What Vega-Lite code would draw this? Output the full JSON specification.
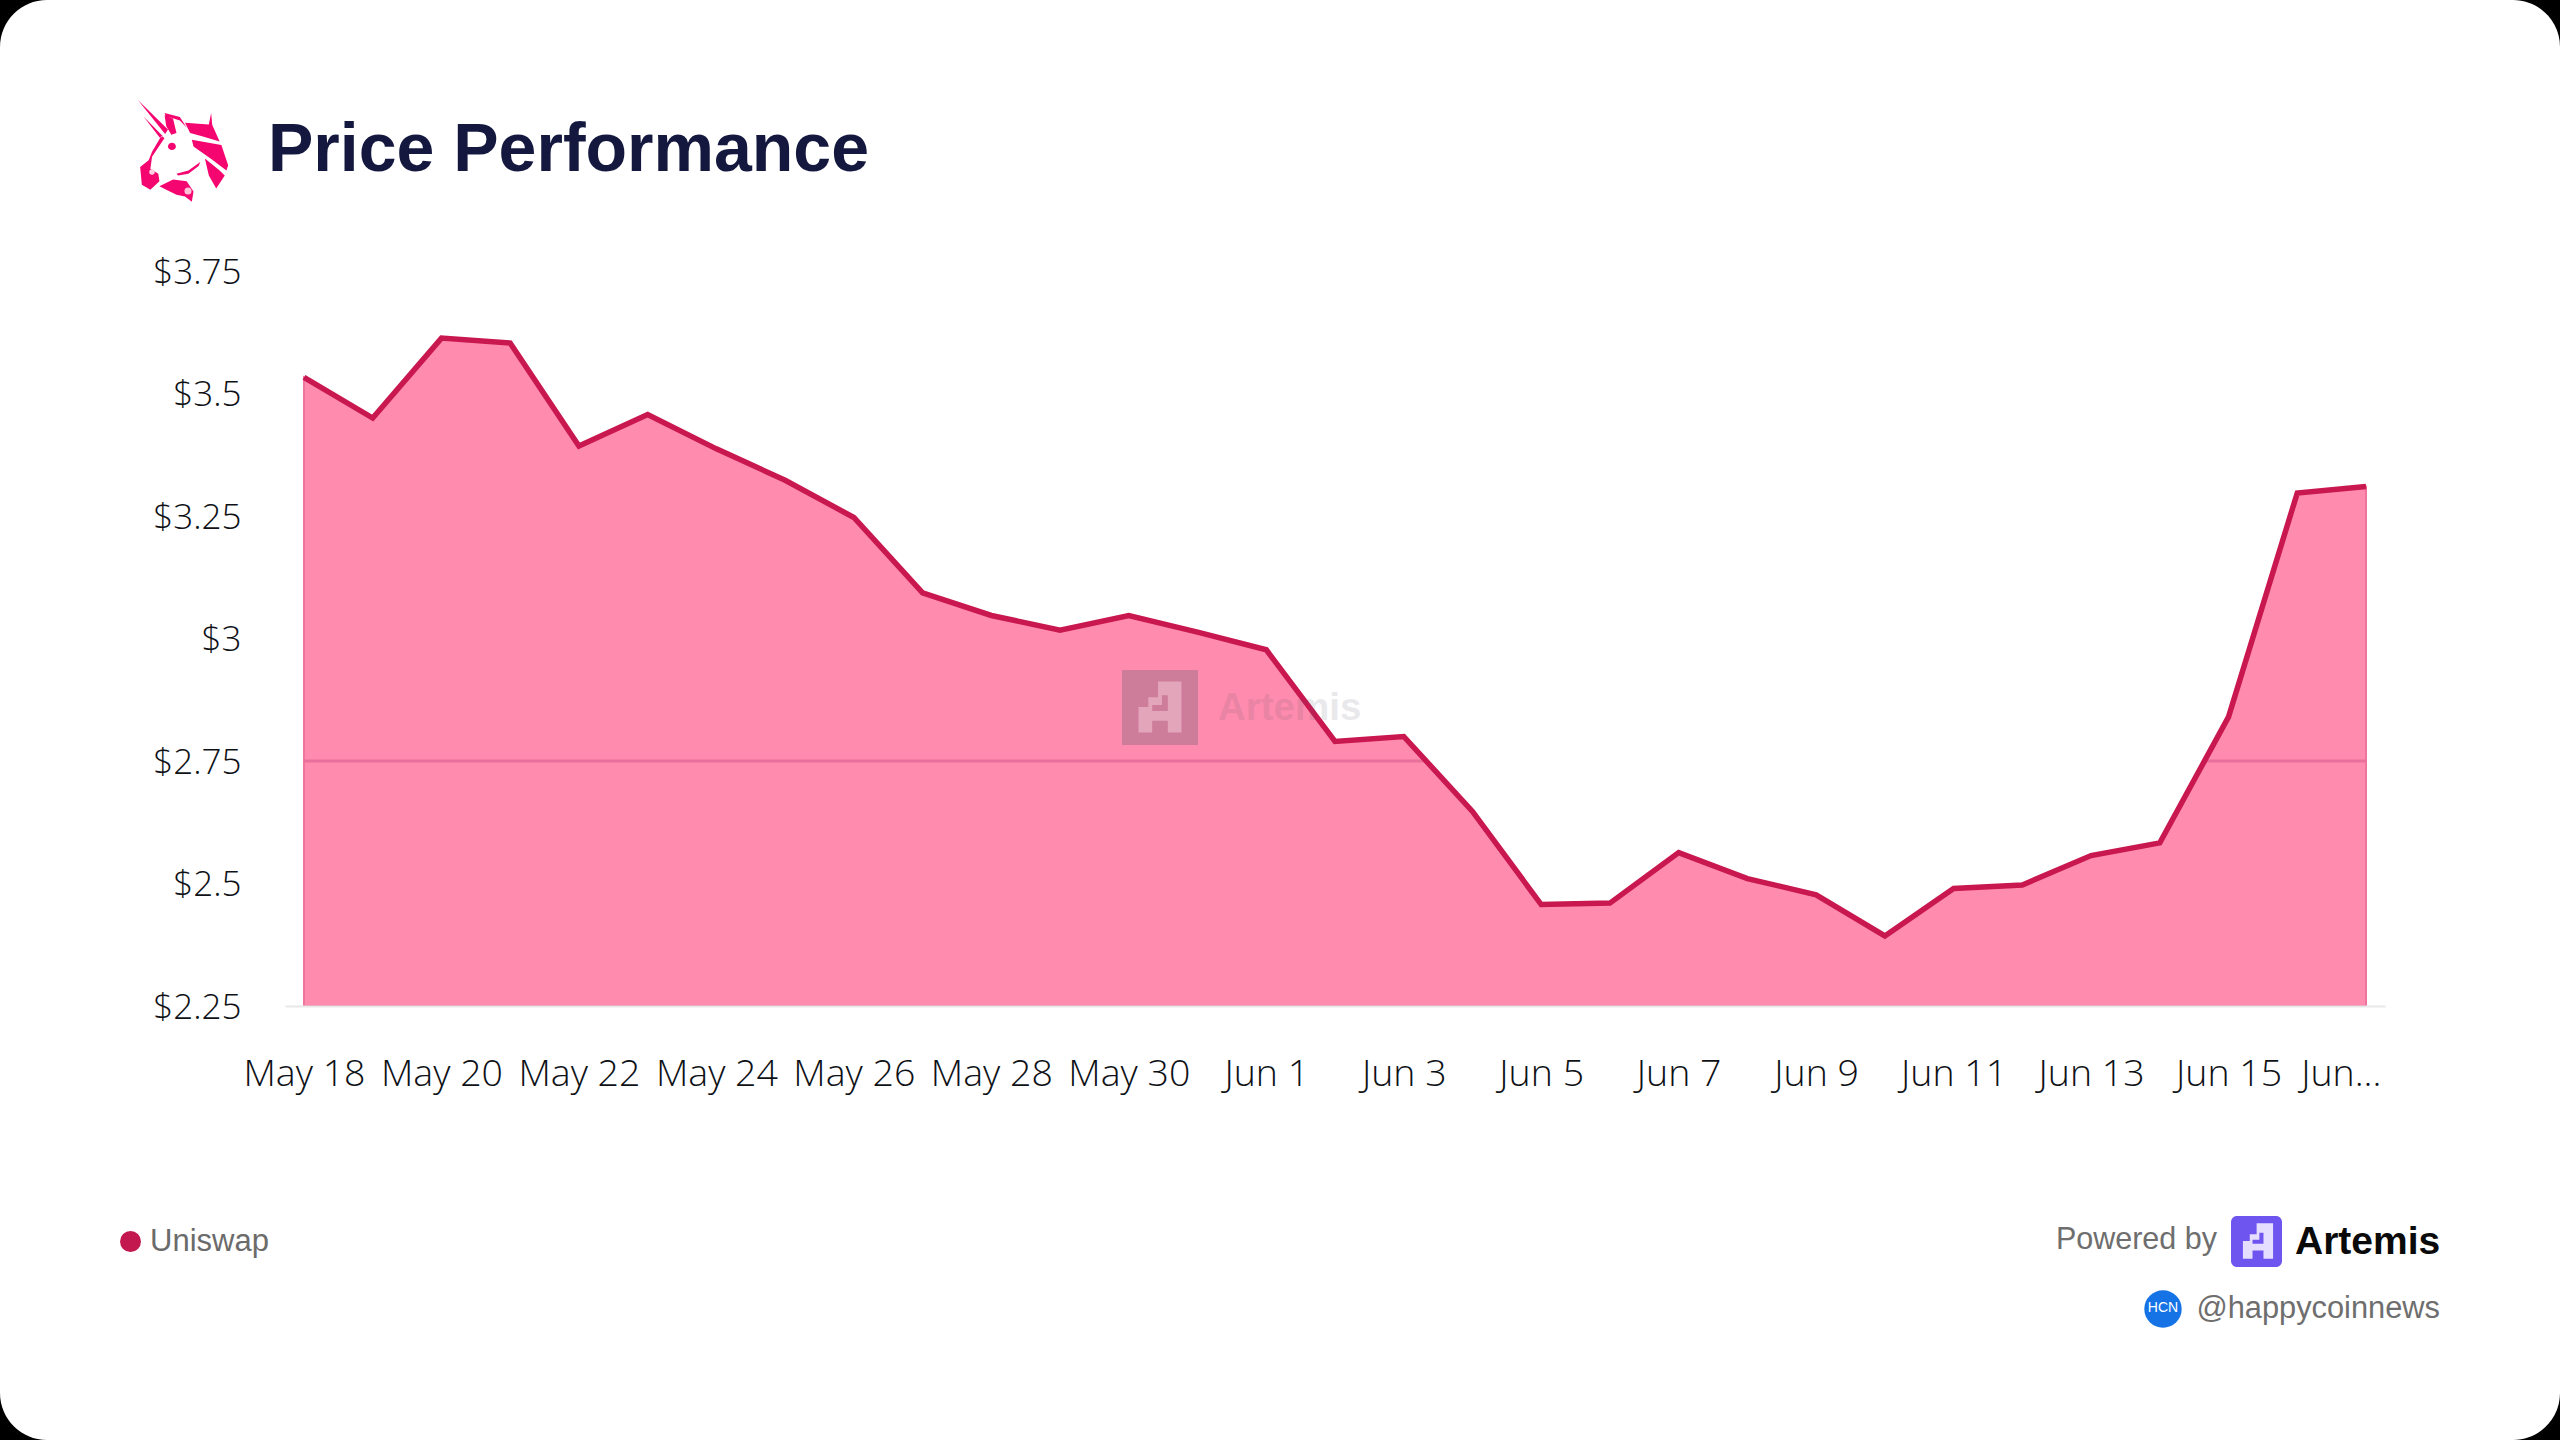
{"$schema":"https://vega.github.io/schema/vega-lite/v6.json","width":2100,"height":735,"autosize":"none","padding":{"left":285,"top":271,"right":175,"bottom":434},"background":"#000000","config":{"view":{"stroke":null},"font":"Open Sans"},"title":{"text":"Price Performance","anchor":"start","frame":"group","orient":"top","font":"Liberation Sans","fontWeight":"bold","fontSize":68,"color":"#14183F","dx":-17,"offset":-185},"data":{"values":[{"date":"2024-05-18T00:00:00Z","price":3.533,"token":"Uniswap"},{"date":"2024-05-19T00:00:00Z","price":3.45,"token":"Uniswap"},{"date":"2024-05-20T00:00:00Z","price":3.613,"token":"Uniswap"},{"date":"2024-05-21T00:00:00Z","price":3.603,"token":"Uniswap"},{"date":"2024-05-22T00:00:00Z","price":3.393,"token":"Uniswap"},{"date":"2024-05-23T00:00:00Z","price":3.457,"token":"Uniswap"},{"date":"2024-05-24T00:00:00Z","price":3.387,"token":"Uniswap"},{"date":"2024-05-25T00:00:00Z","price":3.323,"token":"Uniswap"},{"date":"2024-05-26T00:00:00Z","price":3.247,"token":"Uniswap"},{"date":"2024-05-27T00:00:00Z","price":3.093,"token":"Uniswap"},{"date":"2024-05-28T00:00:00Z","price":3.047,"token":"Uniswap"},{"date":"2024-05-29T00:00:00Z","price":3.017,"token":"Uniswap"},{"date":"2024-05-30T00:00:00Z","price":3.047,"token":"Uniswap"},{"date":"2024-05-31T00:00:00Z","price":3.013,"token":"Uniswap"},{"date":"2024-06-01T00:00:00Z","price":2.977,"token":"Uniswap"},{"date":"2024-06-02T00:00:00Z","price":2.79,"token":"Uniswap"},{"date":"2024-06-03T00:00:00Z","price":2.8,"token":"Uniswap"},{"date":"2024-06-04T00:00:00Z","price":2.647,"token":"Uniswap"},{"date":"2024-06-05T00:00:00Z","price":2.457,"token":"Uniswap"},{"date":"2024-06-06T00:00:00Z","price":2.46,"token":"Uniswap"},{"date":"2024-06-07T00:00:00Z","price":2.563,"token":"Uniswap"},{"date":"2024-06-08T00:00:00Z","price":2.51,"token":"Uniswap"},{"date":"2024-06-09T00:00:00Z","price":2.477,"token":"Uniswap"},{"date":"2024-06-10T00:00:00Z","price":2.393,"token":"Uniswap"},{"date":"2024-06-11T00:00:00Z","price":2.49,"token":"Uniswap"},{"date":"2024-06-12T00:00:00Z","price":2.497,"token":"Uniswap"},{"date":"2024-06-13T00:00:00Z","price":2.557,"token":"Uniswap"},{"date":"2024-06-14T00:00:00Z","price":2.583,"token":"Uniswap"},{"date":"2024-06-15T00:00:00Z","price":2.84,"token":"Uniswap"},{"date":"2024-06-16T00:00:00Z","price":3.297,"token":"Uniswap"},{"date":"2024-06-17T00:00:00Z","price":3.31,"token":"Uniswap"}]},"encoding":{"x":{"field":"date","type":"temporal","title":null,"scale":{"type":"utc","domain":["2024-05-17T17:22:00Z","2024-06-17T06:38:00Z"]},"axis":{"zindex":1,"values":["2024-05-18T00:00:00Z","2024-05-20T00:00:00Z","2024-05-22T00:00:00Z","2024-05-24T00:00:00Z","2024-05-26T00:00:00Z","2024-05-28T00:00:00Z","2024-05-30T00:00:00Z","2024-06-01T00:00:00Z","2024-06-03T00:00:00Z","2024-06-05T00:00:00Z","2024-06-07T00:00:00Z","2024-06-09T00:00:00Z","2024-06-11T00:00:00Z","2024-06-13T00:00:00Z","2024-06-15T00:00:00Z","2024-06-17T00:00:00Z"],"labelExpr":"utcmonth(datum.value)==5 && utcdate(datum.value)==17 ? 'Jun...' : utcFormat(datum.value,'%b %-d')","labelAlign":{"condition":{"test":"utcmonth(datum.value)==5 && utcdate(datum.value)==17","value":"right"},"value":"center"},"labelOffset":{"condition":{"test":"utcmonth(datum.value)==5 && utcdate(datum.value)==17","value":15},"value":0},"labelOverlap":false,"labelBound":false,"labelFlush":false,"labelFontSize":37.5,"labelFontWeight":300,"labelFont":"Open Sans","labelColor":"#0E1116","labelPadding":49,"ticks":false,"grid":false,"domain":true,"domainColor":"#E8E8E8","domainWidth":2}},"y":{"field":"price","type":"quantitative","title":null,"scale":{"domain":[2.25,3.75],"zero":false,"nice":false},"axis":{"zindex":1,"values":[2.25,2.5,2.75,3,3.25,3.5,3.75],"labelExpr":"'$'+datum.value","labelFontSize":35,"labelFontWeight":300,"labelOffset":1,"labelFont":"Open Sans","labelColor":"#0E1116","labelPadding":44,"ticks":false,"grid":false,"domain":false,"labelBound":false,"labelFlush":false}}},"layer":[{"data":{"values":[{"card":"card"}]},"mark":{"type":"rect","fill":"#FFFFFF","cornerRadius":47},"encoding":{"x":{"value":-285},"x2":{"value":2275},"y":{"value":-271},"y2":{"value":1169}}},{"mark":{"type":"area","fill":"#FF8BAE","stroke":"#F0759C","strokeWidth":2,"line":false},"encoding":{"y2":{"datum":2.25}}},{"data":{"values":[{"date":"2024-05-18T00:00:00Z","level":2.75,"seg":"a"},{"date":"2024-06-03T07:00:00Z","level":2.75,"seg":"a"},{"date":"2024-06-14T15:00:00Z","level":2.75,"seg":"b"},{"date":"2024-06-17T00:00:00Z","level":2.75,"seg":"b"}]},"mark":{"type":"line","stroke":"#E8709A","strokeWidth":3},"encoding":{"y":{"field":"level","type":"quantitative"},"detail":{"field":"seg"}}},{"mark":{"type":"line","strokeWidth":5.5,"strokeJoin":"miter"},"encoding":{"color":{"field":"token","type":"nominal","scale":{"range":["#C9174F"]},"legend":{"orient":"none","legendX":-170,"legendY":955,"title":null,"symbolType":"circle","symbolSize":440,"symbolFillColor":"#C2174F","symbolStrokeWidth":0,"labelFontSize":31,"labelFont":"Liberation Sans","labelColor":"#6B6B6B","labelOffset":4,"padding":0}}}},{"data":{"values":[{"name":"watermark"}]},"mark":{"type":"rect","fill":"#5A5A6E","opacity":0.3},"encoding":{"x":{"value":837},"x2":{"value":913},"y":{"value":399},"y2":{"value":474}}},{"data":{"values":[{"label":"Artemis"}]},"mark":{"type":"text","font":"Liberation Sans","fontWeight":"bold","fontSize":38.5,"fill":"#5A5A6E","opacity":0.13,"align":"left","baseline":"middle"},"encoding":{"x":{"value":933},"y":{"value":437},"text":{"field":"label"}}},{"data":{"values":[{"name":"watermark glyph"}]},"mark":{"type":"point","filled":true,"fill":"#F6C6D6","opacity":0.55,"size":6100,"shape":"M-0.55,0.65 L-0.55,0 L-0.3,0 L-0.3,-0.25 L-0.05,-0.25 L-0.05,-0.65 L0.55,-0.65 L0.55,0.65 L0.2,0.65 L0.2,0.35 L-0.2,0.35 L-0.2,0.65 Z M-0.2,0.1 L0.2,0.1 L0.2,-0.3 L0.05,-0.3 L0.05,-0.05 L-0.2,-0.05 Z"},"encoding":{"x":{"value":875},"y":{"value":436}}},{"data":{"values":[{"name":"uniswap logo"}]},"mark":{"type":"point","filled":true,"fill":"#F5056F","opacity":1,"size":12900,"shape":"M-0.83,-0.88 L-0.3,-0.36 L-0.35,-0.28 Z M-0.73,-0.59 L-0.39,-0.24 L-0.44,-0.21 Z M-0.42,-0.24 L-0.58,0.03 L-0.64,0.18 L-0.79,0.3 L-0.76,0.61 L-0.61,0.7 L-0.45,0.55 L-0.47,0.42 L-0.61,0.33 L-0.58,0.12 L-0.36,-0.21 Z M-0.36,-0.61 L-0.21,-0.55 L-0.15,-0.3 L-0.24,-0.27 L-0.33,-0.42 Z M-0.36,-0.65 L-0.09,-0.58 L0.03,-0.39 L-0.09,-0.52 L-0.34,-0.6 Z M-0.3,-0.06 C-0.3,-0.15 -0.16,-0.15 -0.16,-0.06 C-0.16,0.02 -0.3,0.02 -0.3,-0.06 Z M0,-0.48 L0.42,-0.45 L0.46,-0.65 L0.48,-0.44 L0.61,-0.15 L0.3,-0.24 L0.09,-0.3 Z M0.12,-0.18 L0.64,-0.09 L0.76,0.27 L0.73,0.36 L0.45,0.15 L0.15,-0.06 Z M0.35,0.15 L0.61,0.36 L0.7,0.45 L0.55,0.68 L0.42,0.45 Z M-0.15,0.42 L0.06,0.36 L0.27,0.21 L0.24,0.28 L0.06,0.42 L-0.12,0.45 Z M-0.45,0.64 L-0.21,0.52 L0.03,0.55 L0.15,0.73 L0.12,0.91 L0,0.82 L-0.15,0.79 L-0.33,0.7 Z"},"encoding":{"x":{"value":-100},"y":{"value":-121}}},{"data":{"values":[{"name":"uniswap logo nostril"}]},"mark":{"type":"point","filled":true,"fill":"#FFD0E2","opacity":1,"shape":"circle","size":30},"encoding":{"x":{"value":-133},"y":{"value":-99}}},{"data":{"values":[{"name":"uniswap logo curl"}]},"mark":{"type":"point","filled":true,"fill":"#FFC0D8","opacity":1,"shape":"circle","size":50},"encoding":{"x":{"value":-97},"y":{"value":-80}}},{"data":{"values":[{"label":"Powered by"}]},"mark":{"type":"text","font":"Liberation Sans","fontSize":30.5,"fill":"#6E6E6E","align":"right","baseline":"middle"},"encoding":{"x":{"value":1932},"y":{"value":969},"text":{"field":"label"}}},{"data":{"values":[{"name":"artemis icon"}]},"mark":{"type":"rect","fill":"#6F55F0","cornerRadius":6},"encoding":{"x":{"value":1946},"x2":{"value":1997},"y":{"value":945},"y2":{"value":996}}},{"data":{"values":[{"name":"artemis glyph"}]},"mark":{"type":"point","filled":true,"fill":"#E6DEFF","opacity":1,"size":3000,"shape":"M-0.55,0.65 L-0.55,0 L-0.3,0 L-0.3,-0.25 L-0.05,-0.25 L-0.05,-0.65 L0.55,-0.65 L0.55,0.65 L0.2,0.65 L0.2,0.35 L-0.2,0.35 L-0.2,0.65 Z M-0.2,0.1 L0.2,0.1 L0.2,-0.3 L0.05,-0.3 L0.05,-0.05 L-0.2,-0.05 Z"},"encoding":{"x":{"value":1973},"y":{"value":970}}},{"data":{"values":[{"label":"Artemis"}]},"mark":{"type":"text","font":"Liberation Sans","fontWeight":"bold","fontSize":39,"fill":"#0A0A0A","align":"left","baseline":"middle"},"encoding":{"x":{"value":2010},"y":{"value":971},"text":{"field":"label"}}},{"data":{"values":[{"name":"hcn badge"}]},"mark":{"type":"point","filled":true,"fill":"#1673E6","opacity":1,"shape":"circle","size":1400},"encoding":{"x":{"value":1878},"y":{"value":1038}}},{"data":{"values":[{"label":"HCN"}]},"mark":{"type":"text","font":"Liberation Sans","fontSize":14,"fill":"#FFFFFF","align":"center","baseline":"middle"},"encoding":{"x":{"value":1878},"y":{"value":1037},"text":{"field":"label"}}},{"data":{"values":[{"label":"@happycoinnews"}]},"mark":{"type":"text","font":"Liberation Sans","fontSize":30.8,"fill":"#6E6E6E","align":"right","baseline":"middle"},"encoding":{"x":{"value":2155},"y":{"value":1038},"text":{"field":"label"}}}]}
